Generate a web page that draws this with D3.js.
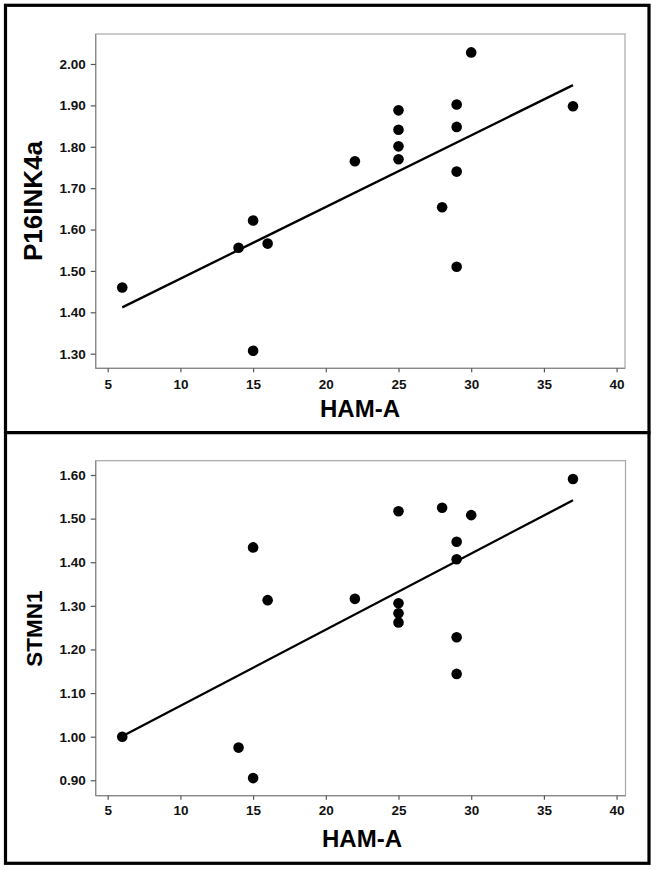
<!DOCTYPE html>
<html>
<head>
<meta charset="utf-8">
<script src="https://cdn.jsdelivr.net/npm/d3@7"></script>
<style>
  html, body { margin: 0; padding: 0; background: #fff; }
  svg { display: block; }
  .tick text { font-family: "Liberation Sans", Arial, sans-serif; font-weight: bold; font-size: 13.5px; fill: #111; }
</style>
</head>
<body>
<svg id="chart" width="656" height="870"></svg>
<script>
// ---------- data ----------
const hamA = [6, 14, 15, 15, 16, 22, 25, 25, 25, 25, 28, 29, 29, 29, 29, 30, 37];
const p16ink4a = [1.46, 1.556, 1.622, 1.307, 1.566, 1.765, 1.888, 1.841, 1.801, 1.770, 1.654, 1.902, 1.848, 1.740, 1.510, 2.028, 1.898];
const stmn1 = [1.00, 0.975, 1.434, 0.905, 1.313, 1.316, 1.517, 1.306, 1.283, 1.262, 1.525, 1.447, 1.407, 1.228, 1.144, 1.508, 1.591];

const fitX = [6, 37];
const p16Fit = [1.412, 1.949];
const stmn1Fit = [1.001, 1.542];

const xTicks = [5, 10, 15, 20, 25, 30, 35, 40];
const p16Ticks = [1.30, 1.40, 1.50, 1.60, 1.70, 1.80, 1.90, 2.00];
const stmn1Ticks = [0.90, 1.00, 1.10, 1.20, 1.30, 1.40, 1.50, 1.60];

const xLabel = "HAM-A";

// ---------- drawing ----------
const svg = d3.select("#chart");

// outer frame and divider
svg.append("rect")
  .attr("x", 5.5).attr("y", 5.3).attr("width", 643.5).attr("height", 858)
  .attr("fill", "none").attr("stroke", "#000").attr("stroke-width", 3.2);
svg.append("line")
  .attr("x1", 4).attr("x2", 650.5).attr("y1", 432.6).attr("y2", 432.6)
  .attr("stroke", "#000").attr("stroke-width", 3.2);

function panel(cfg) {
  const x = d3.scaleLinear().domain([5, 40]).range([107.7, 616.6]);
  const y = d3.scaleLinear().domain(cfg.yDomain).range(cfg.yRange);
  const g = svg.append("g");

  // plot frame
  g.append("rect")
    .attr("x", cfg.frame.left).attr("y", cfg.frame.top)
    .attr("width", cfg.frame.right - cfg.frame.left)
    .attr("height", cfg.frame.bottom - cfg.frame.top)
    .attr("fill", "#fff").attr("stroke", "#a8a8a8").attr("stroke-width", 1.2);

  // y axis
  const ya = g.append("g")
    .attr("transform", `translate(${cfg.frame.left},0)`)
    .call(d3.axisLeft(y).tickValues(cfg.yTicks).tickFormat(d3.format(".2f")).tickSize(5).tickPadding(5));
  ya.select(".domain").attr("stroke", "#888").attr("stroke-width", 1.2)
    .attr("d", `M0,${cfg.frame.top}V${cfg.frame.bottom}`);
  ya.selectAll(".tick line").attr("stroke", "#555").attr("stroke-width", 1.2);

  // x axis
  const xa = g.append("g")
    .attr("transform", `translate(0,${cfg.frame.bottom})`)
    .call(d3.axisBottom(x).tickValues(xTicks).tickFormat(d3.format("d")).tickSize(4).tickPadding(cfg.xPad));
  xa.select(".domain").attr("stroke", "#888").attr("stroke-width", 1.2)
    .attr("d", `M${cfg.frame.left},0H${cfg.frame.right}`);
  xa.selectAll(".tick line").attr("stroke", "#555").attr("stroke-width", 1.2);

  // fit line
  const line = d3.line().x(d => x(d[0])).y(d => y(d[1]));
  g.append("path")
    .datum(fitX.map((v, i) => [v, cfg.fit[i]]))
    .attr("d", line)
    .attr("fill", "none").attr("stroke", "#000").attr("stroke-width", 2.3);

  // points
  g.selectAll("circle.pt")
    .data(hamA.map((v, i) => [v, cfg.values[i]]))
    .join("circle")
    .attr("class", "pt")
    .attr("cx", d => x(d[0])).attr("cy", d => y(d[1]))
    .attr("r", 5.3).attr("fill", "#000");

  // axis titles
  g.append("text")
    .attr("x", cfg.xTitle[0]).attr("y", cfg.xTitle[1])
    .attr("text-anchor", "middle")
    .style("font-family", "'Liberation Sans', Arial, sans-serif")
    .style("font-weight", "bold").style("font-size", "24px")
    .text(xLabel);

  g.append("text")
    .attr("transform", `translate(${cfg.yTitle[0]},${cfg.yTitle[1]}) rotate(-90)`)
    .attr("text-anchor", "middle")
    .style("font-family", "'Liberation Sans', Arial, sans-serif")
    .style("font-weight", "bold").style("font-size", cfg.yTitleSize)
    .text(cfg.yLabel);
}

panel({
  yDomain: [1.30, 2.00], yRange: [353.7, 64],
  frame: { left: 95.7, right: 625, top: 34, bottom: 368.3 },
  yTicks: p16Ticks, values: p16ink4a, fit: p16Fit,
  xPad: 7,
  xTitle: [360, 416.7], yTitle: [41.7, 201], yLabel: "P16INK4a", yTitleSize: "26px"
});

panel({
  yDomain: [0.90, 1.60], yRange: [780.3, 475],
  frame: { left: 95.7, right: 625.5, top: 460.7, bottom: 795.7 },
  yTicks: stmn1Ticks, values: stmn1, fit: stmn1Fit,
  xPad: 6,
  xTitle: [362, 846.5], yTitle: [41.7, 628.7], yLabel: "STMN1", yTitleSize: "22.5px"
});
</script>
</body>
</html>
